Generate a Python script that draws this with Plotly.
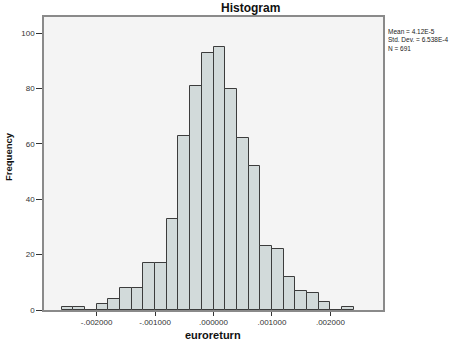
import plotly.graph_objects as go

# Histogram data (bin centres and counts)
bin_centers = [-0.0025, -0.0023, -0.0021, -0.0019, -0.0017, -0.0015, -0.0013,
               -0.0011, -0.0009, -0.0007, -0.0005, -0.0003, -0.0001, 0.0001,
               0.0003, 0.0005, 0.0007, 0.0009, 0.0011, 0.0013, 0.0015, 0.0017,
               0.0019, 0.0021, 0.0023]
counts = [1, 1, 0, 2, 4, 8, 8, 17, 17, 33, 63, 81, 93, 95, 80, 62, 52, 23, 22,
          12, 7, 6, 3, 0, 1]
bin_width = 0.0002

x_tickvals = [-0.002, -0.001, 0.0, 0.001, 0.002]
x_ticktext = ["-.002000", "-.001000", ".000000", ".001000", ".002000"]
y_tickvals = [0, 20, 40, 60, 80, 100]

stats_lines = ["Mean = 4.12E-5", "Std. Dev. = 6.538E-4", "N = 691"]

FONT = "Liberation Sans, Arial, sans-serif"

fig = go.Figure()
fig.add_trace(go.Bar(
    x=bin_centers, y=counts, width=[bin_width] * len(counts),
    marker=dict(color="#d2dada", line=dict(color="#3c3c3c", width=1)),
    showlegend=False, hoverinfo="x+y",
))

W, H = 474, 344
ml, mr, mt, mb = 44, 91, 17, 34
pw = W - ml - mr
ph = H - mt - mb

fig.update_layout(
    width=W, height=H,
    margin=dict(l=ml, r=mr, t=mt, b=mb, pad=0),
    paper_bgcolor="white",
    plot_bgcolor="#f4f4f4",
    font=dict(family=FONT, color="#222222", size=8),
    bargap=0,
    xaxis=dict(
        range=[-0.0029, 0.0029],
        tickvals=x_tickvals, ticktext=x_ticktext,
        ticks="outside", ticklen=4, tickcolor="#333333", tickwidth=1,
        showgrid=False, zeroline=False,
        showline=True, mirror=True, linecolor="#8a8a8a", linewidth=1.5,
        tickfont=dict(size=8, color="#333333"),
    ),
    yaxis=dict(
        range=[0, 105.9],
        tickvals=y_tickvals,
        ticks="outside", ticklen=6, tickcolor="#333333", tickwidth=1,
        showgrid=False, zeroline=False,
        showline=True, mirror=True, linecolor="#8a8a8a", linewidth=1.5,
        tickfont=dict(size=8, color="#333333"),
    ),
)

# Title
fig.add_annotation(text="<b>Histogram</b>", xref="paper", yref="paper",
                   x=(251 - ml) / pw, y=1 + (mt - 8) / ph,
                   xanchor="center", yanchor="middle", showarrow=False,
                   font=dict(size=12, color="#111111", family=FONT))
# Axis titles
fig.add_annotation(text="<b>euroreturn</b>", xref="paper", yref="paper",
                   x=(212.5 - ml) / pw, y=-(335 - (H - mb)) / ph,
                   xanchor="center", yanchor="middle", showarrow=False,
                   font=dict(size=11, color="#111111", family=FONT))
fig.add_annotation(text="<b>Frequency</b>", xref="paper", yref="paper",
                   x=-(ml - 8) / pw, y=1 - (157 - mt) / ph,
                   xanchor="center", yanchor="middle", showarrow=False,
                   textangle=-90,
                   font=dict(size=9.5, color="#111111", family=FONT))
# Stats text
fig.add_annotation(text="<br>".join(stats_lines), xref="paper", yref="paper",
                   x=(386 - ml) / pw, y=1 - (39.5 - mt) / ph,
                   xanchor="left", yanchor="middle", align="left",
                   showarrow=False,
                   font=dict(size=6.5, color="#222222", family=FONT))

fig.write_html("out.html")
